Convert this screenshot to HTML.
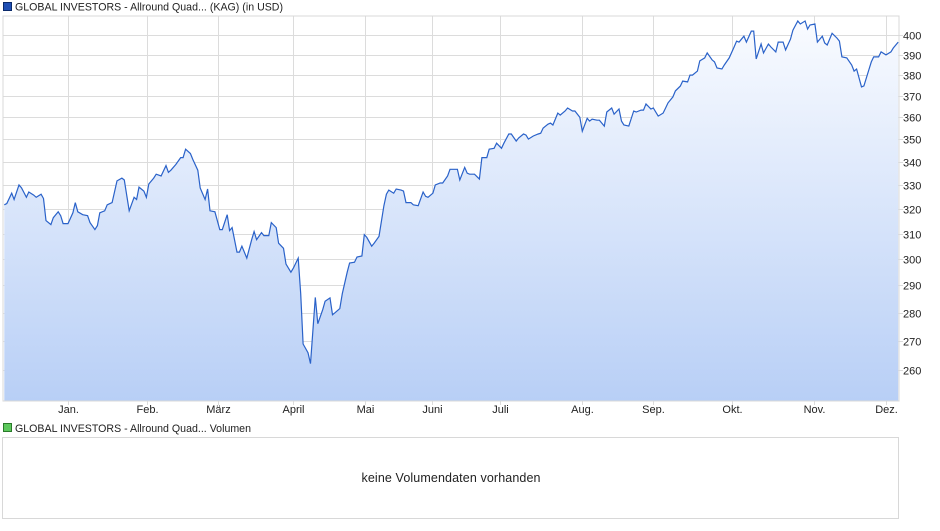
<!DOCTYPE html>
<html><head><meta charset="utf-8"><style>
body{margin:0;background:#fff;width:940px;height:526px;overflow:hidden;font-family:"Liberation Sans",sans-serif}
svg text{font-family:"Liberation Sans",sans-serif}
</style></head><body>
<svg id="c" width="940" height="526" xmlns="http://www.w3.org/2000/svg">
<defs><linearGradient id="g" x1="0" y1="0" x2="0" y2="1"><stop offset="0" stop-color="#f9fbff"/><stop offset="1" stop-color="#b8cff6"/></linearGradient></defs>
<rect x="3.5" y="2.5" width="8" height="8" fill="#1f4fb4" stroke="#0b2a6b"/>
<text x="15" y="10.5" font-size="10.6" fill="#222" textLength="268">GLOBAL INVESTORS - Allround Quad... (KAG) (in USD)</text>
<g id="grid"></g>
<path id="area" fill="url(#g)"/>
<path id="line" fill="none" stroke="#2a62c9" stroke-width="1.2"/>
<rect x="3" y="16" width="896" height="385" fill="none" stroke="#d8d8d8"/>
<g id="ylab"></g><g id="xlab"></g>
<rect x="3.5" y="423.5" width="8" height="8" fill="#5cc85c" stroke="#2a7a2a"/>
<text x="15" y="432" font-size="10.6" fill="#222" textLength="236">GLOBAL INVESTORS - Allround Quad... Volumen</text>
<rect x="2.5" y="437.5" width="896" height="81" fill="#fff" stroke="#d8d8d8"/>
<text x="451" y="482" font-size="12.5" fill="#222" text-anchor="middle" textLength="179">keine Volumendaten vorhanden</text>
</svg>
<script>
const days=[-26,-25,-23,-22,-20,-19,-17,-16,-14,-13,-11,-10,-9,-7,-6,-4,-3,-2,0,2,3,4,6,8,9,11,12,13,15,16,18,19,20,22,23,25,27,28,29,31,32,33,35,36,38,40,41,42,44,46,47,48,50,51,53,54,56,57,58,60,62,63,65,66,67,69,70,71,73,75,76,77,79,80,82,83,85,86,88,89,91,92,94,95,96,98,99,101,102,104,105,107,108,109,111,112,114,115,117,118,120,121,122,124,125,127,129,130,131,133,134,136,137,138,140,141,143,145,146,147,149,150,152,153,155,156,158,159,160,162,163,164,166,168,169,171,172,174,175,177,178,180,181,183,184,186,187,188,190,192,193,194,196,197,198,200,201,203,204,206,207,209,210,212,213,214,216,217,219,220,222,223,225,226,227,229,231,232,234,235,236,238,239,241,243,244,245,247,248,250,251,253,254,255,257,258,260,261,263,264,265,267,268,270,272,273,274,276,277,279,280,281,283,284,286,287,289,290,292,293,295,296,298,299,301,302,303,305,306,308,309,310,312,314,315,316,318,320,321,322,324,325,327,328,329,331,332,334,336,337,339];
const values=[321.7,322.2,326.5,323.9,330,328.8,324.8,327,325.7,324.8,326.1,324.3,315.2,313.6,316.4,318.8,317.2,314,314,318.4,322.6,318.8,317.6,317.2,314.4,311.6,313.2,318.4,319.2,321.7,322.6,327,331.7,332.9,332.1,319.2,324.8,323.9,329.1,327.4,324.8,330.4,332.9,334.6,333.8,338.3,335.4,336.3,338.8,341.8,341.8,345.5,343.6,340.9,336.3,328.7,323.9,328.3,319.2,318.8,311.6,311.6,317.6,311.2,312.4,302.7,302.7,305,300.4,307.6,310.8,307.6,310.4,309.2,309.2,314.4,312.4,306.2,304.2,298.1,295,296.5,300.4,287,269,266,262.3,285.6,276.1,281.1,284.2,285.4,279.3,280,281.5,287,295,298.5,298.8,300.8,301.2,309.6,308.5,305,306.2,308.9,321.3,326.1,327.8,326.5,328.3,327.8,327.4,322.6,322.6,321.7,321.3,327,325.2,324.8,326.5,330,330.8,330.8,333.8,336.7,336.7,336.7,332.1,337.5,335,334.6,334.6,332.5,341.8,341.8,345.5,345.9,348.2,345.9,348.2,352.3,352.3,349.1,350.5,352.3,351.8,350,351.4,352.3,352.7,355,356.8,357.3,356.4,361.9,361,362.9,364.3,362.9,362.9,360,353.6,359.5,358.2,359.1,358.6,358.6,355.9,362.4,364.3,361.4,363.8,358.2,356.4,355.9,362.9,362.4,363.3,363.3,366.2,363.8,364.3,360.5,361.9,364.3,366.7,369.5,372.4,374.7,377.1,376.7,380,380,382,387,388.5,391,387.5,386.5,383.5,383,385,388.5,394,397,396.5,399.5,396.5,402.1,402.1,388,395.5,391,395.5,394,391.5,396.5,396.5,392.5,398,402.6,407.4,405.8,407.4,403.2,405.3,405.8,396.5,399.5,396,395,401,398.5,397,389,388.5,385,382,383,374.3,374.8,382.5,386.5,389,389,391.5,390,391.5,393.5,396.5];
const yTicks=[260,270,280,290,300,310,320,330,340,350,360,370,380,390,400];
const monthLabels=["Jan.","Feb.","März","April","Mai","Juni","Juli","Aug.","Sep.","Okt.","Nov.","Dez."];
const monthDays=[0,32.3,61.2,91.9,121.3,148.6,176.4,209.9,238.9,271.1,304.6,334];
const L=3,R=899,T=16,B=401,yMin=250,yMax=410;
const xs=d=>68+d*2.449;
const ys=v=>B-(Math.log(v/yMin)/Math.log(yMax/yMin))*(B-T);
const NS="http://www.w3.org/2000/svg";
const grid=document.getElementById('grid'),yl=document.getElementById('ylab'),xl=document.getElementById('xlab');
yTicks.forEach(t=>{
 const y=Math.round(ys(t))+0.5;
 const ln=document.createElementNS(NS,'line');
 ln.setAttribute('x1',L);ln.setAttribute('x2',R+4);ln.setAttribute('y1',y);ln.setAttribute('y2',y);
 ln.setAttribute('stroke','#dcdcdc');
 
 
 grid.appendChild(ln);
 const tx=document.createElementNS(NS,'text');
 tx.setAttribute('x',903);tx.setAttribute('y',y+4);tx.setAttribute('font-size','11');tx.setAttribute('fill','#222');
 tx.textContent=t;
 
 
 yl.appendChild(tx);
});
monthDays.forEach((d,i)=>{
 const x=Math.round(xs(d))+0.5;
 const ln=document.createElementNS(NS,'line');
 ln.setAttribute('x1',x);ln.setAttribute('x2',x);ln.setAttribute('y1',T);ln.setAttribute('y2',B+4);
 ln.setAttribute('stroke','#dcdcdc');
 
 
 grid.appendChild(ln);
 const tx=document.createElementNS(NS,'text');
 tx.setAttribute('x',x);tx.setAttribute('y',413);tx.setAttribute('font-size','11');tx.setAttribute('fill','#222');tx.setAttribute('text-anchor','middle');
 tx.textContent=monthLabels[i];
 
 
 xl.appendChild(tx);
});
let d='';
days.forEach((dd,i)=>{d+=(i?'L':'M')+xs(dd).toFixed(1)+' '+ys(values[i]).toFixed(1);});
document.getElementById('line').setAttribute('d',d);
document.getElementById('area').setAttribute('d',d+'L'+xs(days[days.length-1]).toFixed(1)+' '+B+'L'+xs(days[0]).toFixed(1)+' '+B+'Z');
</script>
</body></html>
